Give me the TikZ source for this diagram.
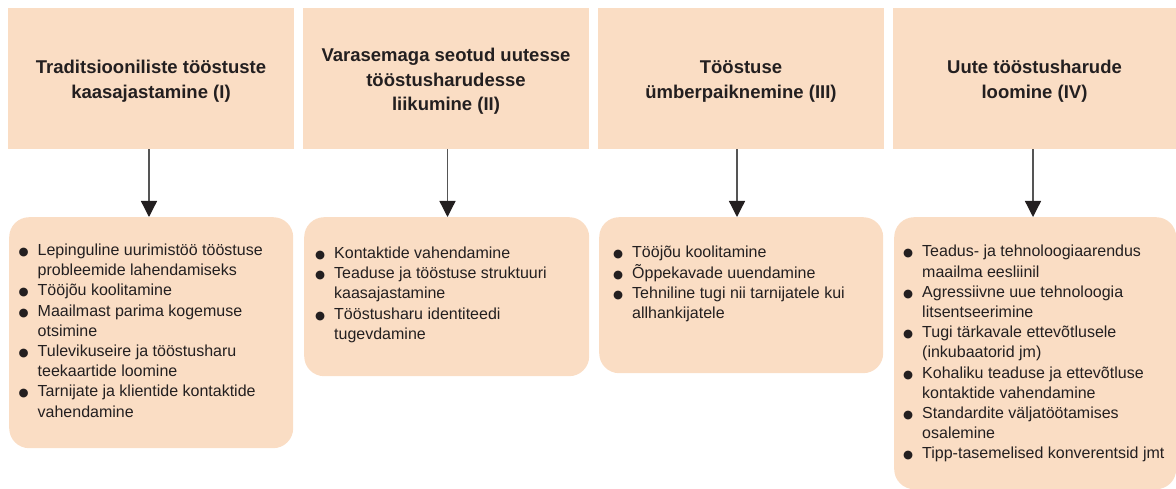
\documentclass[tikz,border=0pt]{standalone}
\usepackage{fontspec}
\setmainfont{Liberation Sans}
\newfontfamily\symfont{DejaVu Sans}
\usetikzlibrary{arrows.meta}

\definecolor{peach}{RGB}{250,221,196}
\definecolor{ink}{RGB}{35,31,32}
\definecolor{stem}{RGB}{85,85,85}

% bullet list helpers: first column holds the bullet, second the text
\newcommand{\bulletmark}{{\symfont\fontsize{11.5}{11.5}\selectfont ●}}
\newcommand{\bl}{\makebox[19pt][l]{\bulletmark}}
\newenvironment{measures}{\begin{tabular}[t]{@{}l@{}l@{}}}{\end{tabular}}
% taller first heading line, moves the heading text a little lower
\newcommand{\hdstrut}{\rule{0pt}{19pt}}

\tikzset{
  headbox/.style={fill=peach, minimum height=141pt, inner sep=0pt, align=center,
    font=\fontsize{18.5}{24.5}\selectfont\bfseries, text=ink},
  listbox/.style={fill=peach, rounded corners=20pt, inner sep=0pt, anchor=north west},
  listtext/.style={anchor=base west, inner sep=0pt,
    font=\fontsize{16}{20.2}\selectfont, text=ink},
  link/.style={draw=stem, line width=1.3pt, -{Triangle[length=16pt,width=16pt,color=ink]}}
}

\begin{document}
\begin{tikzpicture}[x=1pt,y=-1pt]
\useasboundingbox (0,0) rectangle (1176,489);

% column headings
\node[headbox, minimum width=286pt] (t1) at (151,78.5) {\hdstrut Traditsiooniliste tööstuste\\kaasajastamine (I)};
\node[headbox, minimum width=286pt] (t2) at (446,78.5) {\hdstrut Varasemaga seotud uutesse\\tööstusharudesse\\liikumine (II)};
\node[headbox, minimum width=286pt] (t3) at (741,78.5) {\hdstrut Tööstuse\\ümberpaiknemine (III)};
\node[headbox, minimum width=283pt] (t4) at (1034.5,78.5) {\hdstrut Uute tööstusharude\\loomine (IV)};

% rounded boxes for the measures
\node[listbox, minimum width=284pt, minimum height=231pt] (b1) at (9,217) {};
\node[listbox, minimum width=285pt, minimum height=159pt] (b2) at (304,217) {};
\node[listbox, minimum width=284pt, minimum height=156pt] (b3) at (599,217) {};
\node[listbox, minimum width=282pt, minimum height=272pt] (b4) at (894,217) {};

% arrows from headings to boxes
\draw[link] ([xshift=-2pt]t1.south) -- ([xshift=-2pt]t1.south |- b1.north);
\draw[link] ([xshift=1.5pt]t2.south) -- ([xshift=1.5pt]t2.south |- b2.north);
\draw[link] ([xshift=-4pt]t3.south) -- ([xshift=-4pt]t3.south |- b3.north);
\draw[link] ([xshift=-1.5pt]t4.south) -- ([xshift=-1.5pt]t4.south |- b4.north);

% bullet lists
\node[listtext] (l1) at (18.5,255.5) {\begin{measures}
\bl & Lepinguline uurimistöö tööstuse\\
    & probleemide lahendamiseks\\
\bl & Tööjõu koolitamine\\
\bl & Maailmast parima kogemuse\\
    & otsimine\\
\bl & Tulevikuseire ja tööstusharu\\
    & teekaartide loomine\\
\bl & Tarnijate ja klientide kontaktide\\
    & vahendamine
\end{measures}};

\node[listtext] (l2) at (315,258.5) {\begin{measures}
\bl & Kontaktide vahendamine\\
\bl & Teaduse ja tööstuse struktuuri\\
    & kaasajastamine\\
\bl & Tööstusharu identiteedi\\
    & tugevdamine
\end{measures}};

\node[listtext] (l3) at (613,258) {\begin{measures}
\bl & Tööjõu koolitamine\\
\bl & Õppekavade uuendamine\\
\bl & Tehniline tugi nii tarnijatele kui\\
    & allhankijatele
\end{measures}};

\node[listtext] (l4) at (903,257) {\begin{measures}
\bl & Teadus- ja tehnoloogiaarendus\\
    & maailma eesliinil\\
\bl & Agressiivne uue tehnoloogia\\
    & litsentseerimine\\
\bl & Tugi tärkavale ettevõtlusele\\
    & (inkubaatorid jm)\\
\bl & Kohaliku teaduse ja ettevõtluse\\
    & kontaktide vahendamine\\
\bl & Standardite väljatöötamises\\
    & osalemine\\
\bl & Tipp-tasemelised konverentsid jmt
\end{measures}};
\end{tikzpicture}
\end{document}
